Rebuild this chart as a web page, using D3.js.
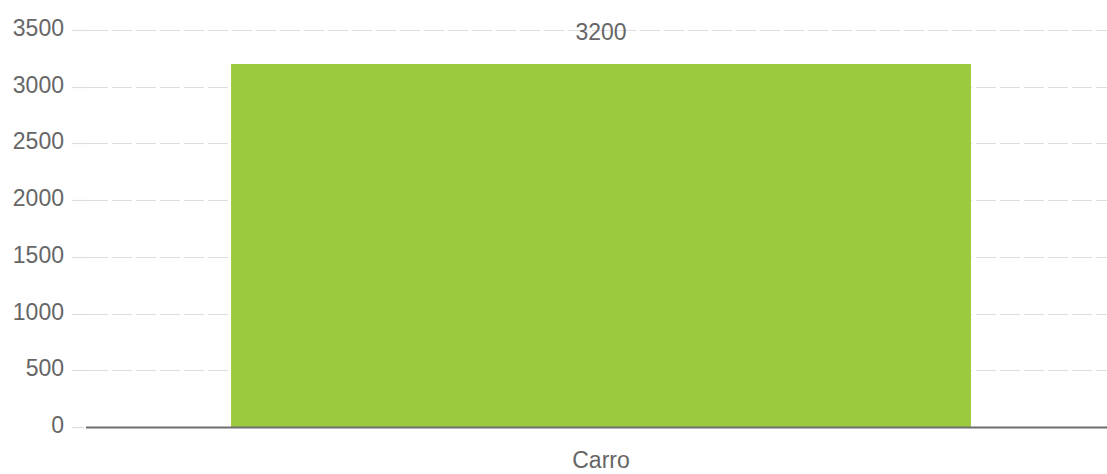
<!DOCTYPE html>
<html>
<head>
<meta charset="utf-8">
<script src="https://cdn.jsdelivr.net/npm/d3@7"></script>
<style>
html,body{margin:0;padding:0;background:#fff;}
svg{display:block;}
text{font-family:"Liberation Sans",Arial,sans-serif;}
</style>
</head>
<body>
<svg id="chart" width="1107" height="474"></svg>
<script>
const categories = ["Carro"];
const values = [3200];
const yTicks = [0, 500, 1000, 1500, 2000, 2500, 3000, 3500];

const W = 1107, H = 474;
const svg = d3.select("#chart");

const x = d3.scaleBand().domain(categories).range([86, 1116]).paddingInner(0).paddingOuter(0.196);
const y = d3.scaleLinear().domain([0, 3500]).range([427, 30]);

// gridlines
const grid = svg.append("g");
yTicks.forEach(t => {
  const yy = Math.round(y(t)) + 0.5;
  grid.append("line").attr("x1", 72).attr("x2", t === 0 ? 84 : 88).attr("y1", yy).attr("y2", yy)
    .attr("stroke", "#dddddd").attr("stroke-width", 1.2);
  if (t !== 0) {
    grid.append("line").attr("x1", 88).attr("x2", W).attr("y1", yy).attr("y2", yy)
      .attr("stroke", "#dddddd").attr("stroke-width", 1.2).attr("stroke-dasharray", "20,4");
  }
});

// y labels
svg.append("g").selectAll("text").data(yTicks).join("text")
  .attr("x", 64).attr("y", d => y(d) + 6)
  .attr("text-anchor", "end").attr("font-size", 23).attr("fill", "#666")
  .text(d => d);

// bars
svg.append("g").selectAll("rect").data(categories).join("rect")
  .attr("x", d => x(d)).attr("width", x.bandwidth())
  .attr("y", (d, i) => y(values[i])).attr("height", (d, i) => y(0) - y(values[i]))
  .attr("fill", "#9bca3e");

// value labels
svg.append("g").selectAll("text").data(categories).join("text")
  .attr("x", d => x(d) + x.bandwidth() / 2).attr("y", (d, i) => y(values[i]) - 24)
  .attr("text-anchor", "middle").attr("font-size", 23).attr("fill", "#666")
  .text((d, i) => values[i]);

// baseline
svg.append("line").attr("x1", 86).attr("x2", W).attr("y1", y(0) + 0.5).attr("y2", y(0) + 0.5)
  .attr("stroke", "#6e6e6e").attr("stroke-width", 2);

// x labels
svg.append("g").selectAll("text").data(categories).join("text")
  .attr("x", d => x(d) + x.bandwidth() / 2).attr("y", 468)
  .attr("text-anchor", "middle").attr("font-size", 23).attr("fill", "#666")
  .text(d => d);
</script>
</body>
</html>
